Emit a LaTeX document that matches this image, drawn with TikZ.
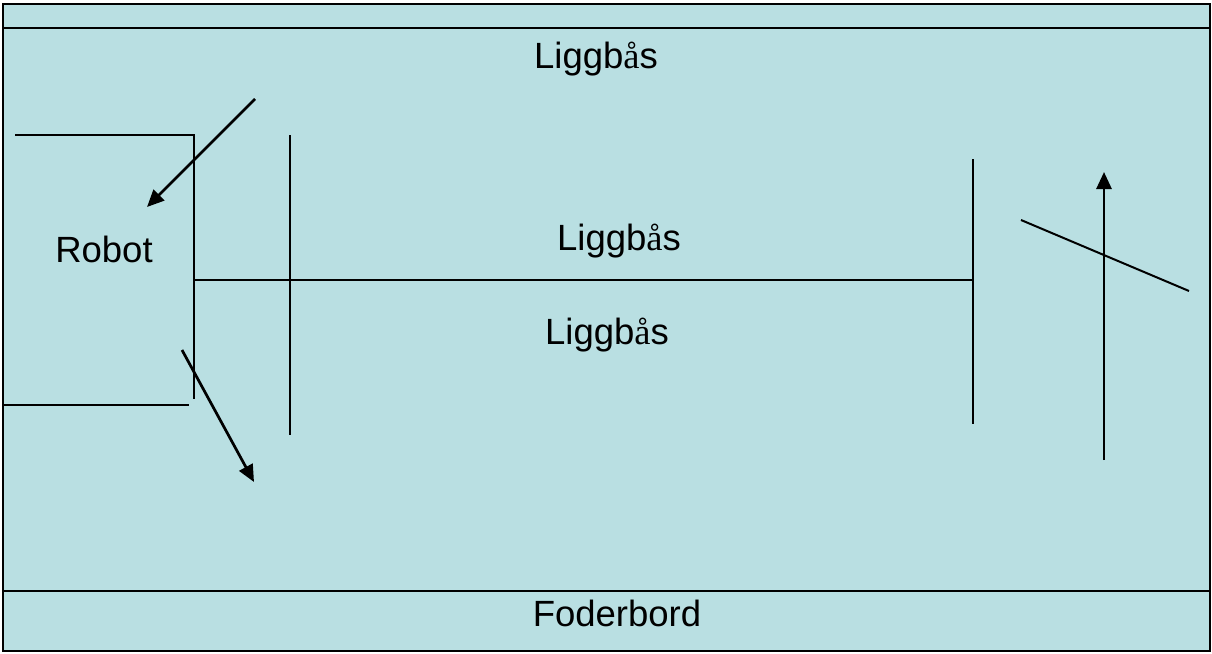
\documentclass[tikz,border=0pt]{standalone}
\usepackage{fontspec}
\setmainfont{Liberation Sans}
\newfontfamily\serifa{Liberation Serif}
\usetikzlibrary{arrows.meta}
\definecolor{bgblue}{HTML}{B9DFE2}
\newcommand{\aring}{{\serifa å}}
\begin{document}
\begin{tikzpicture}[x=1pt,y=-1pt,
  wall/.style={line width=2pt,black},
  arr/.style={line width=2.75pt,black,-{Triangle[length=17pt,width=15pt]}},
  lbl/.style={font=\fontsize{36.5}{40}\selectfont,inner sep=0pt,anchor=base}]
\useasboundingbox (0,0) rectangle (1212,653);
\draw[wall,fill=bgblue] (3,4) rectangle (1210,651);
\draw[wall] (3,28) -- (1210,28);
\draw[wall] (3,591) -- (1210,591);
% robot box
\draw[wall] (15,135) -- (194,135) -- (194,399);
\draw[wall] (3,405) -- (189,405);
% stalls
\draw[wall] (290,135) -- (290,435);
\draw[wall] (194,280) -- (973,280);
\draw[wall] (973,159) -- (973,424);
\draw[wall] (1021,220) -- (1189,291);
% arrows
\coordinate (a1s) at (255,99);
\coordinate (a1e) at (147,207);
\coordinate (a2s) at (182,350);
\coordinate (a2e) at (254,482);
\coordinate (a3s) at (1104,460);
\coordinate (a3e) at (1104,172);
\draw[arr] (a1s) -- (a1e);
\draw[arr] (a2s) -- (a2e);
\draw[arr] (a3s) -- (a3e);
% labels
\node[lbl] (top) at (596,68) {Liggb\aring s};
\node[lbl] (robot) at (104,262) {Robot};
\node[lbl] (mid1) at (619,250) {Liggb\aring s};
\node[lbl] (mid2) at (607,344) {Liggb\aring s};
\node[lbl] (foder) at (617,626) {Foderbord};
\end{tikzpicture}
\end{document}
